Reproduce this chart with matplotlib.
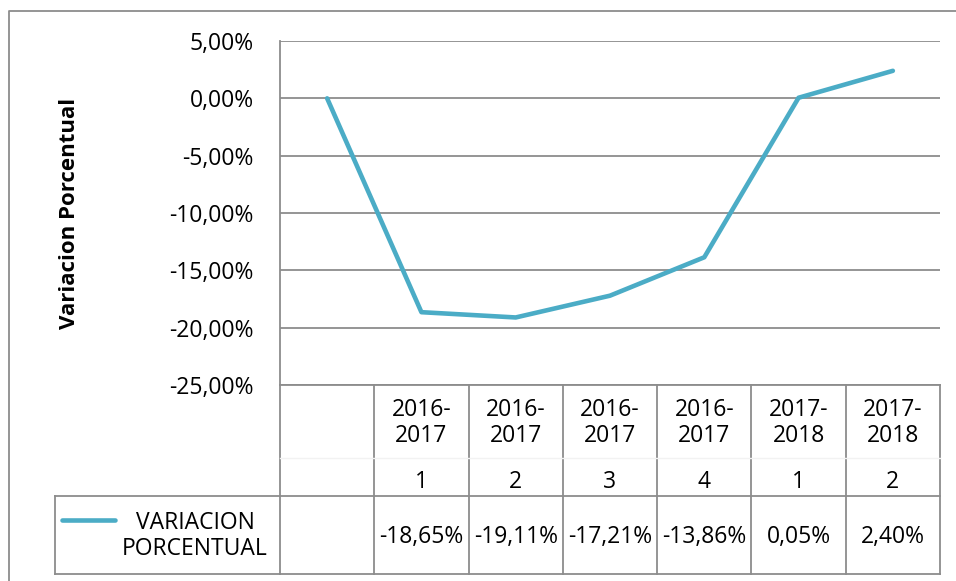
import numpy as np
import matplotlib
matplotlib.use('Agg')
import matplotlib.pyplot as plt
import matplotlib.transforms as mtransforms
from matplotlib.lines import Line2D
from matplotlib.ticker import FuncFormatter

plt.rcParams['font.family'] = ['Open Sans', 'DejaVu Sans']

periods = ['', '2016-\n2017', '2016-\n2017', '2016-\n2017', '2016-\n2017', '2017-\n2018', '2017-\n2018']
sub_labels = ['', '1', '2', '3', '4', '1', '2']
variacion = [0.0, -18.65, -19.11, -17.21, -13.86, 0.05, 2.40]
series_name = 'VARIACION\nPORCENTUAL'

line_color = '#4BACC6'
grid_color = '#8c8c8c'
fs = 16.5

def pct(v, pos=None):
    return ('%.2f%%' % v).replace('.', ',')

W, H = 956, 581
fig = plt.figure(figsize=(W / 100, H / 100), dpi=100)
ax = fig.add_axes([280 / W, 1 - 385 / H, 660 / W, 344 / H])

x = np.arange(len(variacion))
ax.plot(x, variacion, color=line_color, lw=3.3, solid_capstyle='round', solid_joinstyle='round', zorder=3)

ax.set_xlim(-0.5, len(variacion) - 0.5)
ax.set_ylim(-25, 5)
ax.set_yticks(np.arange(-25, 6, 5))
ax.yaxis.set_major_formatter(FuncFormatter(pct))
ax.tick_params(axis='y', length=0, pad=19, labelsize=fs)
ax.set_xticks([])
ax.grid(axis='y', color=grid_color, lw=1.3)
for s in ['top', 'right', 'bottom']:
    ax.spines[s].set_visible(False)
ax.spines['left'].set_color(grid_color)
ax.spines['left'].set_linewidth(1.3)

ax.set_ylabel('Variacion Porcentual', fontsize=16, fontweight='bold')
ax.yaxis.set_label_coords(-0.303, 0.5)

# data table under the axis
trans = mtransforms.blended_transform_factory(ax.transData, ax.transAxes)
r1 = -111 / 344
r2 = -189 / 344
tbl = dict(color=grid_color, lw=1.3, clip_on=False, transform=trans)
for xe in np.arange(-0.5, len(variacion), 1.0):
    ax.add_line(Line2D([xe, xe], [0, r2], **tbl))
ax.add_line(Line2D([-0.5, len(variacion) - 0.5], [0, 0], **tbl))
ax.add_line(Line2D([-0.5, len(variacion) - 0.5], [r2, r2], **tbl))
ax.add_line(Line2D([-0.5, len(variacion) - 0.5], [r1, r1], **tbl))
ax.add_line(Line2D([-0.5, len(variacion) - 0.5], [-73 / 344, -73 / 344],
                   color='#f2f2f2', lw=1, clip_on=False, transform=trans))

for i in range(len(variacion)):
    ax.text(i, -38 / 344, periods[i], ha='center', va='center', fontsize=fs,
            transform=trans, linespacing=1.15)
    ax.text(i, -97 / 344, sub_labels[i], ha='center', va='center', fontsize=fs, transform=trans)
    if i > 0:
        ax.text(i, -152 / 344, pct(variacion[i]), ha='center', va='center', fontsize=fs, transform=trans)

# legend cell
fig.add_artist(Line2D([55 / W, 280 / W], [1 - 496 / H, 1 - 496 / H], color=grid_color, lw=1.3))
fig.add_artist(Line2D([55 / W, 280 / W], [1 - 574 / H, 1 - 574 / H], color=grid_color, lw=1.3))
fig.add_artist(Line2D([55 / W, 55 / W], [1 - 496 / H, 1 - 574 / H], color=grid_color, lw=1.3))
fig.add_artist(Line2D([62 / W, 115 / W], [1 - 520 / H, 1 - 520 / H], color=line_color, lw=3.3,
                      solid_capstyle='round'))
fig.text(195 / W, 1 - 536 / H, series_name, ha='center', va='center', fontsize=fs, linespacing=1.15)

# chart border
fig.add_artist(Line2D([9 / W, 9 / W, 1.0], [0.0, 1 - 11 / H, 1 - 11 / H], color=grid_color, lw=1.3))

fig.savefig('out.png', dpi=100)
